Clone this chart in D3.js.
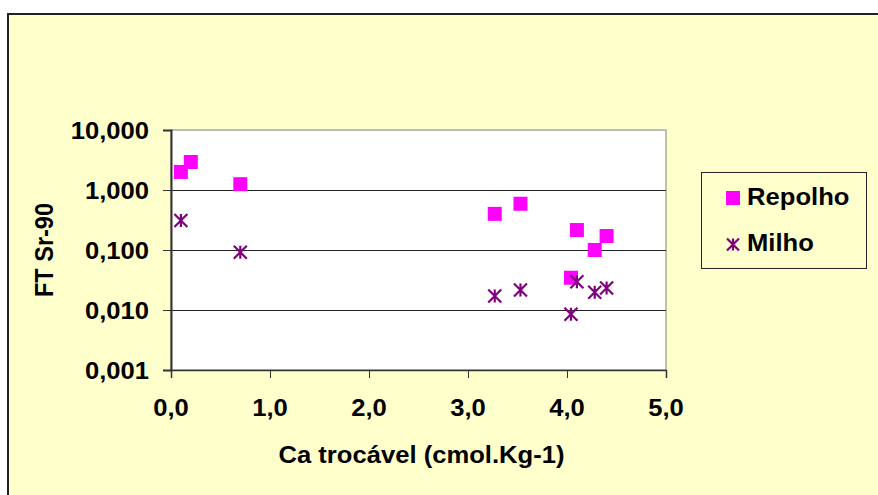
<!DOCTYPE html>
<html>
<head>
<meta charset="utf-8">
<script src="https://cdn.jsdelivr.net/npm/d3@7"></script>
<style>
  html, body { margin: 0; padding: 0; background: #ffffff; }
  svg { display: block; }
  text { font-family: "Liberation Sans", Arial, sans-serif; font-weight: bold; fill: #000; }
</style>
</head>
<body>
<svg id="chart" width="878" height="495"></svg>
<script>
// Sr-90 transfer factor versus exchangeable calcium
const repolhoCa = [0.10, 0.20, 0.70, 3.27, 3.53, 4.04, 4.10, 4.28, 4.40];
const repolhoFT = [2.00, 2.93, 1.25, 0.40, 0.59, 0.0345, 0.215, 0.100, 0.171];
const milhoCa   = [0.10, 0.70, 3.27, 3.53, 4.04, 4.10, 4.28, 4.40];
const milhoFT   = [0.31, 0.092, 0.0171, 0.0216, 0.0085, 0.0296, 0.0197, 0.0233];
const xTicks = [0, 1, 2, 3, 4, 5];
const yTicks = [0.001, 0.01, 0.1, 1, 10];
const seriesNames = ["Repolho", "Milho"];
const xTitle = "Ca trocável (cmol.Kg-1)";
const yTitle = "FT Sr-90";

const svg = d3.select("#chart");
const W = 878, H = 495;
const stretch = 1.09;        // text is drawn slightly wide
const fontSize = 23.5;

const locale = d3.formatLocale({ decimal: ",", thousands: ".", grouping: [3], currency: ["", ""] });
const fx = locale.format(".1f");
const fy = locale.format(".3f");

// chart background frame
svg.append("rect")
  .attr("x", 8).attr("y", 14).attr("width", W + 10).attr("height", H + 10)
  .attr("fill", "#FFFFCC").attr("stroke", "#222").attr("stroke-width", 2);

const plot = { left: 171, right: 666, top: 130, bottom: 370 };
const x = d3.scaleLinear().domain([0, 5]).range([plot.left, plot.right]);
const y = d3.scaleLog().domain([0.001, 10]).range([plot.bottom, plot.top]);

// plot area
svg.append("rect")
  .attr("x", plot.left).attr("y", plot.top)
  .attr("width", plot.right - plot.left).attr("height", plot.bottom - plot.top)
  .attr("fill", "#ffffff").attr("stroke", "#808080").attr("stroke-width", 1);

// horizontal gridlines
svg.append("g").selectAll("line")
  .data(yTicks.slice(1, -1))
  .join("line")
  .attr("x1", plot.left).attr("x2", plot.right)
  .attr("y1", d => Math.round(y(d)) + 0.5).attr("y2", d => Math.round(y(d)) + 0.5)
  .attr("stroke", "#222").attr("stroke-width", 1);

// helper: text with horizontal stretch
function stretchedText(parent, tx, ty, str, anchor, rotate) {
  const g = parent.append("g")
    .attr("transform", `translate(${tx},${ty}) scale(${stretch},1)` + (rotate ? ` rotate(${rotate})` : ""));
  g.append("text")
    .attr("text-anchor", anchor)
    .attr("dominant-baseline", "central")
    .attr("font-size", fontSize)
    .text(str);
  return g;
}

// y axis
const yAxis = d3.axisLeft(y).tickValues(yTicks).tickSize(8).tickFormat("");
const gy = svg.append("g").attr("transform", `translate(${plot.left},0)`).call(yAxis);
gy.select(".domain").attr("stroke", "#333").attr("stroke-width", 2);
gy.selectAll(".tick line").attr("stroke", "#333").attr("stroke-width", 1);
yTicks.forEach(t => stretchedText(svg, 149, y(t) + 1, fy(t), "end"));

// x axis
const xAxis = d3.axisBottom(x).tickValues(xTicks).tickSize(8).tickFormat("");
const gx = svg.append("g").attr("transform", `translate(0,${plot.bottom})`).call(xAxis);
gx.select(".domain").attr("stroke", "#333").attr("stroke-width", 1.5);
gx.selectAll(".tick line").attr("stroke", "#333").attr("stroke-width", 1);
xTicks.forEach(t => stretchedText(svg, x(t), 408, fx(t), "middle"));

// axis titles
stretchedText(svg, (plot.left + plot.right) / 2 + 3, 455, xTitle, "middle");
stretchedText(svg, 44, 250, yTitle, "middle", -90);

// markers
const sq = 14;
const star = (s) => {
  const h = s / 2;
  return `M${-h},${-h}L${h},${h}M${-h},${h}L${h},${-h}M0,${-h}L0,${h}`;
};

svg.append("g").selectAll("rect")
  .data(d3.zip(repolhoCa, repolhoFT))
  .join("rect")
  .attr("x", d => x(d[0]) - sq / 2).attr("y", d => y(d[1]) - sq / 2)
  .attr("width", sq).attr("height", sq)
  .attr("fill", "#FF00FF");

svg.append("g").selectAll("path")
  .data(d3.zip(milhoCa, milhoFT))
  .join("path")
  .attr("transform", d => `translate(${x(d[0])},${y(d[1])})`)
  .attr("d", star(13))
  .attr("fill", "none").attr("stroke", "#800080").attr("stroke-width", 2.2);

// legend
const lg = svg.append("g");
lg.append("rect")
  .attr("x", 701.5).attr("y", 172.5).attr("width", 165).attr("height", 96)
  .attr("fill", "#FFFFCC").attr("stroke", "#222").attr("stroke-width", 1);
lg.append("rect")
  .attr("x", 726).attr("y", 191).attr("width", sq).attr("height", sq)
  .attr("fill", "#FF00FF");
lg.append("path")
  .attr("transform", "translate(733,244.5)")
  .attr("d", star(12))
  .attr("fill", "none").attr("stroke", "#800080").attr("stroke-width", 2.2);
stretchedText(lg, 747, 197, seriesNames[0], "start");
stretchedText(lg, 747, 243, seriesNames[1], "start");
</script>
</body>
</html>
